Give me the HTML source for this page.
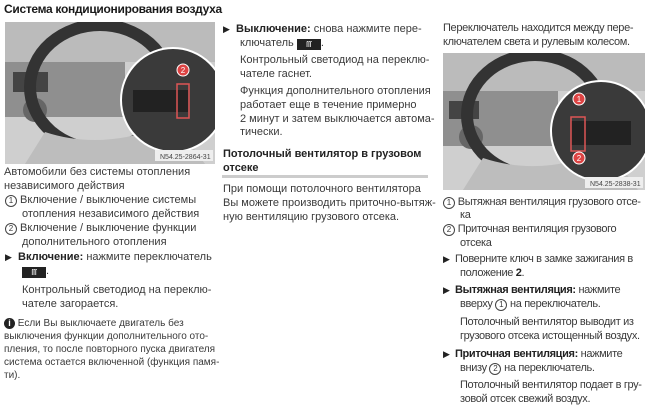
<!DOCTYPE html>
<html><head><meta charset="utf-8"><style>
body{margin:0;width:650px;height:402px;background:#fff;position:relative;overflow:hidden;font-family:"Liberation Sans","DejaVu Sans",sans-serif;color:#3a3a3a;font-size:11px}
.l{position:absolute;white-space:nowrap;line-height:14px}
.r{letter-spacing:-0.35px}
b{color:#222}
.c{display:inline-block;width:10px;height:10px;border:1px solid #444;border-radius:50%;font-size:8px;line-height:10px;text-align:center;vertical-align:0px;letter-spacing:0}
.ic{display:inline-block;width:24px;height:11px;background:#222;vertical-align:-1px;color:#fff;font-size:8px;text-align:center;line-height:11px}
.tri{font-size:9px;color:#222}
</style></head><body>
<div class="l" style="left:4px;top:2px;font-size:12px;font-weight:bold;color:#1a1a1a;letter-spacing:-0.3px">Система кондиционирования воздуха</div>

<svg style="position:absolute;left:5px;top:22px" width="210" height="142" viewBox="0 0 210 142">
<rect width="210" height="142" fill="#cfcfcf"/>
<rect x="0" y="0" width="210" height="40" fill="#bbb"/>
<rect x="0" y="40" width="120" height="55" fill="#8f8f8f"/>
<rect x="8" y="50" width="35" height="20" fill="#444"/>
<circle cx="30" cy="88" r="12" fill="#666"/>
<ellipse cx="95" cy="65" rx="70" ry="62" fill="none" stroke="#333" stroke-width="12"/>
<path d="M40 110 Q100 130 170 100 L200 142 L20 142Z" fill="#bdbdbd"/>
<circle cx="168" cy="78" r="52" fill="#3a3a3a" stroke="#fff" stroke-width="2"/>
<rect x="128" y="68" width="55" height="22" fill="#222"/>
<rect x="172" y="62" width="12" height="34" fill="none" stroke="#d55" stroke-width="1.5"/>
<circle cx="178" cy="48" r="6" fill="#d44" stroke="#fff"/>
<text x="178" y="51" font-size="8" fill="#fff" text-anchor="middle" font-family="Liberation Sans">2</text>
<rect x="150" y="128" width="58" height="11" fill="#eee"/>
<text x="155" y="137" font-size="7" fill="#444" font-family="Liberation Sans">N54.25-2864-31</text>
</svg>

<div class="l" style="left:4px;top:165px">Автомобили без системы отопления</div>
<div class="l" style="left:4px;top:179px">независимого действия</div>
<div class="l" style="left:5px;top:193px"><span class="c">1</span> Включение / выключение системы</div>
<div class="l" style="left:22px;top:207px">отопления независимого действия</div>
<div class="l" style="left:5px;top:221px"><span class="c">2</span> Включение / выключение функции</div>
<div class="l" style="left:22px;top:235px">дополнительного отопления</div>
<div class="l" style="left:5px;top:250px"><span class="tri">▶</span>&nbsp;&nbsp;<b>Включение:</b> нажмите переключатель</div>
<div class="l" style="left:22px;top:264px"><span class="ic">ſſſ</span>.</div>
<div class="l" style="left:22px;top:283px">Контрольный светодиод на переклю-</div>
<div class="l" style="left:22px;top:297px">чателе загорается.</div>
<div class="l" style="left:4px;top:317px;font-size:10px"><span style="display:inline-block;width:11px;height:11px;border-radius:50%;background:#222;color:#fff;font-size:9px;text-align:center;line-height:11px;font-weight:bold">i</span> Если Вы выключаете двигатель без</div>
<div class="l" style="left:4px;top:330px;font-size:10px">выключения функции дополнительного ото-</div>
<div class="l" style="left:4px;top:343px;font-size:10px">пления, то после повторного пуска двигателя</div>
<div class="l" style="left:4px;top:356px;font-size:10px">система остается включенной (функция памя-</div>
<div class="l" style="left:4px;top:369px;font-size:10px">ти).</div>

<div class="l" style="left:223px;top:22px"><span class="tri">▶</span>&nbsp;&nbsp;<b>Выключение:</b> снова нажмите пере-</div>
<div class="l" style="left:240px;top:36px">ключатель <span class="ic">ſſſ</span>.</div>
<div class="l" style="left:240px;top:53px">Контрольный светодиод на переклю-</div>
<div class="l" style="left:240px;top:67px">чателе гаснет.</div>
<div class="l" style="left:240px;top:84px">Функция дополнительного отопления</div>
<div class="l" style="left:240px;top:98px">работает еще в течение примерно</div>
<div class="l" style="left:240px;top:112px">2 минут и затем выключается автома-</div>
<div class="l" style="left:240px;top:125px">тически.</div>
<div class="l" style="left:223px;top:147px;font-weight:bold;color:#222">Потолочный вентилятор в грузовом</div>
<div class="l" style="left:223px;top:161px;font-weight:bold;color:#222">отсеке</div>
<div style="position:absolute;left:222px;top:175px;width:206px;height:3px;background:#ccc"></div>
<div class="l" style="left:223px;top:182px">При помощи потолочного вентилятора</div>
<div class="l" style="left:223px;top:196px">Вы можете производить приточно-вытяж-</div>
<div class="l" style="left:223px;top:210px">ную вентиляцию грузового отсека.</div>

<div class="l r" style="left:443px;top:21px">Переключатель находится между пере-</div>
<div class="l r" style="left:443px;top:35px">ключателем света и рулевым колесом.</div>

<svg style="position:absolute;left:443px;top:53px" width="202" height="137" viewBox="0 0 202 137">
<rect width="202" height="137" fill="#cfcfcf"/>
<rect x="0" y="0" width="202" height="38" fill="#bbb"/>
<rect x="0" y="38" width="115" height="55" fill="#8f8f8f"/>
<rect x="6" y="48" width="30" height="18" fill="#444"/>
<circle cx="28" cy="84" r="12" fill="#666"/>
<ellipse cx="92" cy="62" rx="68" ry="60" fill="none" stroke="#333" stroke-width="12"/>
<path d="M40 105 Q100 125 165 96 L195 137 L20 137Z" fill="#bdbdbd"/>
<circle cx="158" cy="78" r="50" fill="#3a3a3a" stroke="#fff" stroke-width="2"/>
<rect x="128" y="68" width="60" height="24" fill="#222"/>
<rect x="128" y="64" width="14" height="34" fill="none" stroke="#d55" stroke-width="1.5"/>
<circle cx="136" cy="46" r="6" fill="#d44" stroke="#fff"/>
<text x="136" y="49" font-size="8" fill="#fff" text-anchor="middle" font-family="Liberation Sans">1</text>
<circle cx="136" cy="105" r="6" fill="#d44" stroke="#fff"/>
<text x="136" y="108" font-size="8" fill="#fff" text-anchor="middle" font-family="Liberation Sans">2</text>
<rect x="142" y="124" width="58" height="11" fill="#eee"/>
<text x="147" y="133" font-size="7" fill="#444" font-family="Liberation Sans">N54.25-2838-31</text>
</svg>

<div class="l r" style="left:443px;top:195px"><span class="c">1</span> Вытяжная вентиляция грузового отсе-</div>
<div class="l r" style="left:460px;top:208px">ка</div>
<div class="l r" style="left:443px;top:222px"><span class="c">2</span> Приточная вентиляция грузового</div>
<div class="l r" style="left:460px;top:236px">отсека</div>
<div class="l r" style="left:443px;top:252px"><span class="tri">▶</span>&nbsp;&nbsp;Поверните ключ в замке зажигания в</div>
<div class="l r" style="left:460px;top:266px">положение <b>2</b>.</div>
<div class="l r" style="left:443px;top:283px"><span class="tri">▶</span>&nbsp;&nbsp;<b>Вытяжная вентиляция:</b> нажмите</div>
<div class="l r" style="left:460px;top:297px">вверху <span class="c">1</span> на переключатель.</div>
<div class="l r" style="left:460px;top:315px">Потолочный вентилятор выводит из</div>
<div class="l r" style="left:460px;top:329px">грузового отсека истощенный воздух.</div>
<div class="l r" style="left:443px;top:347px"><span class="tri">▶</span>&nbsp;&nbsp;<b>Приточная вентиляция:</b> нажмите</div>
<div class="l r" style="left:460px;top:361px">внизу <span class="c">2</span> на переключатель.</div>
<div class="l r" style="left:460px;top:378px">Потолочный вентилятор подает в гру-</div>
<div class="l r" style="left:460px;top:392px">зовой отсек свежий воздух.</div>
</body></html>
